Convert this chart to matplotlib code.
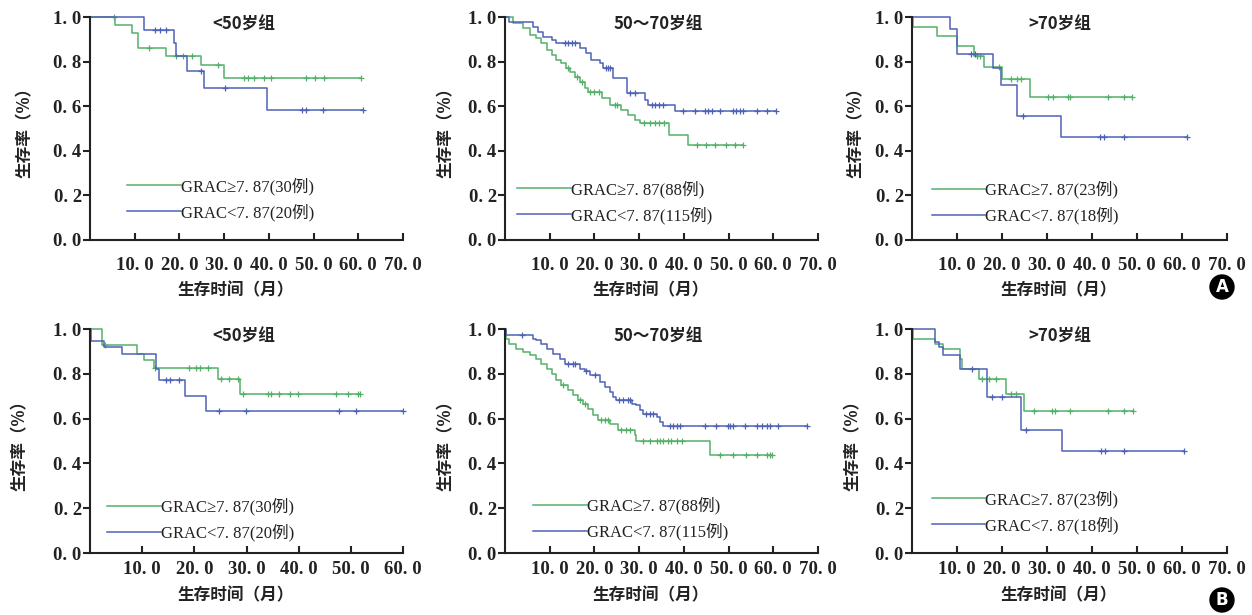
import numpy as np
import matplotlib.pyplot as plt

plt.rcParams['font.family'] = ['Liberation Serif', 'Noto Sans CJK SC']
plt.rcParams['axes.unicode_minus'] = False

GREEN = '#55b06a'
BLUE = '#4d62b5'
CJK = ['Noto Sans CJK SC', 'DejaVu Sans']
SERIF = ['Liberation Serif', 'Noto Sans CJK SC']

# ---------------- data ----------------
ticks_70 = [10, 20, 30, 40, 50, 60, 70]
ticks_60 = [10, 20, 30, 40, 50, 60]
yticks = [0.0, 0.2, 0.4, 0.6, 0.8, 1.0]

titles = ['<50岁组', '50～70岁组', '>70岁组']

# Panel A, <50 (GRAC>=7.87: 30 cases, GRAC<7.87: 20 cases)
a1_hi_t = [5.6, 9.3, 10.7, 16.9, 24.8, 29.9]
a1_hi_s = [0.964, 0.927, 0.862, 0.825, 0.785, 0.728]
a1_hi_c = [5.3, 13.2, 19.3, 20.8, 22.7, 28.7, 34.5, 35.4, 36.6, 38.9, 40.4, 48.2, 50.4, 52.4, 60.6]
a1_lo_t = [12.1, 18.8, 19.3, 21.8, 25.4, 39.5]
a1_lo_s = [0.942, 0.882, 0.825, 0.758, 0.683, 0.583]
a1_lo_c = [14.5, 15.6, 16.9, 24.9, 30.1, 47.5, 48.4, 52.2, 61.1]

# Panel A, 50-70 (88 / 115 cases)
a2_hi_t = [1.8, 4.0, 5.5, 7.0, 8.1, 9.3, 10.4, 11.5, 12.6, 13.7, 14.5, 15.6, 16.7, 17.8,
           18.6, 21.6, 23.4, 26.0, 27.5, 29.0, 30.1, 36.7, 41.0]
a2_hi_s = [0.972, 0.949, 0.919, 0.904, 0.882, 0.852, 0.830, 0.807, 0.792, 0.770, 0.755,
           0.732, 0.710, 0.680, 0.665, 0.635, 0.605, 0.583, 0.561, 0.538, 0.523, 0.471, 0.426]
a2_hi_c = [14.0, 16.0, 17.2, 19.0, 20.0, 21.0, 24.5, 25.0, 31.0, 32.5, 33.5, 34.5, 35.5,
           43.0, 45.0, 47.0, 49.5, 51.5, 53.3]
a2_lo_t = [1.0, 6.3, 7.4, 8.5, 10.4, 11.5, 16.7, 18.2, 19.3, 21.2, 21.9, 24.2, 27.2,
           31.3, 32.0, 38.0]
a2_lo_s = [0.979, 0.957, 0.934, 0.912, 0.897, 0.882, 0.860, 0.837, 0.807, 0.792, 0.770,
           0.725, 0.658, 0.628, 0.605, 0.580]
a2_lo_c = [13.4, 14.2, 15.0, 15.6, 22.5, 23.0, 23.5, 28.0, 29.0, 32.8, 33.5, 34.5, 35.3,
           39.9, 42.5, 44.7, 45.4, 46.2, 48.0, 51.0, 51.7, 52.5, 53.2, 56.3, 58.5, 60.7]

# Panel A, >70 (23 / 18 cases)
a3_hi_t = [0.2, 5.6, 10.0, 13.7, 16.1, 20.1, 26.2]
a3_hi_s = [0.957, 0.913, 0.870, 0.826, 0.775, 0.720, 0.640]
a3_hi_c = [14.5, 15.2, 19.3, 21.9, 23.3, 24.2, 30.2, 31.3, 34.7, 35.0, 43.6, 47.2, 48.8]
a3_lo_t = [8.5, 10.0, 18.1, 19.7, 23.3, 33.0]
a3_lo_s = [0.944, 0.833, 0.771, 0.694, 0.555, 0.463]
a3_lo_c = [13.0, 14.1, 24.6, 41.8, 42.7, 47.2, 61.0]

# Panel B, <50 (30 / 20 cases)
b1_hi_t = [2.3, 9.0, 10.3, 12.2, 24.5, 28.7]
b1_hi_s = [0.927, 0.890, 0.860, 0.827, 0.777, 0.708]
b1_hi_c = [2.9, 12.4, 19.0, 20.3, 21.0, 22.6, 25.1, 26.7, 28.3, 29.3, 34.1, 34.7, 36.3,
           38.3, 39.9, 47.2, 49.5, 51.4, 51.7]
b1_lo_t = [0.2, 2.7, 6.2, 12.6, 13.2, 18.3, 22.2]
b1_lo_s = [0.946, 0.921, 0.887, 0.823, 0.771, 0.700, 0.632]
b1_lo_c = [14.5, 15.4, 17.0, 24.7, 29.9, 47.8, 51.0, 60.0]

# Panel B, 50-70 (88 / 115 cases)
b2_hi_t = [0.2, 1.0, 2.5, 4.0, 5.5, 7.0, 8.1, 9.3, 10.4, 11.5, 12.6, 14.1, 15.2, 16.3,
           17.5, 18.6, 19.7, 20.8, 23.4, 25.3, 29.0, 29.4, 45.8]
b2_hi_s = [0.957, 0.935, 0.912, 0.897, 0.882, 0.868, 0.845, 0.823, 0.801, 0.771, 0.749,
           0.726, 0.704, 0.682, 0.667, 0.644, 0.615, 0.592, 0.577, 0.548, 0.525, 0.500, 0.439]
b2_hi_c = [13.0, 16.8, 18.0, 21.5, 22.3, 23.0, 26.0, 27.0, 28.0, 30.9, 32.4, 33.9, 34.6,
           35.4, 36.5, 37.2, 38.4, 39.5, 48.0, 51.0, 54.0, 56.3, 58.5, 59.3, 59.7]
b2_lo_t = [0.2, 6.3, 7.0, 8.1, 9.3, 10.7, 12.2, 13.4, 16.7, 17.8, 19.0, 21.2, 22.3, 23.4,
           24.2, 24.9, 28.3, 29.4, 30.1, 30.9, 33.9, 34.6, 35.4]
b2_lo_s = [0.975, 0.957, 0.949, 0.935, 0.912, 0.890, 0.868, 0.845, 0.823, 0.811, 0.793,
           0.763, 0.741, 0.719, 0.696, 0.682, 0.667, 0.659, 0.637, 0.622, 0.607, 0.585, 0.565]
b2_lo_c = [3.7, 14.1, 15.2, 15.6, 18.2, 20.1, 25.5, 26.5, 27.5, 28.0, 31.5, 32.5, 33.0,
           36.9, 37.6, 38.4, 39.1, 44.7, 47.3, 49.9, 50.3, 51.0, 53.7, 56.3, 57.4, 58.5,
           59.3, 61.1, 67.5]

# Panel B, >70 (23 / 18 cases)
b3_hi_t = [0.2, 5.1, 6.8, 10.7, 11.0, 14.8, 20.8, 24.9]
b3_hi_s = [0.957, 0.935, 0.912, 0.868, 0.823, 0.778, 0.711, 0.632]
b3_hi_c = [15.6, 17.0, 18.6, 22.0, 23.1, 27.2, 31.0, 31.7, 35.0, 43.6, 47.2, 49.2]
b3_lo_t = [5.1, 5.9, 6.8, 10.7, 16.7, 24.2, 33.4]
b3_lo_s = [0.942, 0.920, 0.882, 0.823, 0.696, 0.548, 0.455]
b3_lo_c = [13.4, 17.8, 20.1, 25.3, 42.1, 42.9, 47.2, 60.5]

labels_hi = ['GRAC≥7. 87(30例)', 'GRAC≥7. 87(88例)', 'GRAC≥7. 87(23例)']
labels_lo = ['GRAC<7. 87(20例)', 'GRAC<7. 87(115例)', 'GRAC<7. 87(18例)']


def km_curve(ax, ev_t, ev_s, cens, color, label):
    t_end = max(cens[-1], ev_t[-1])
    x = np.concatenate([[0.0], ev_t, [t_end]])
    y = np.concatenate([[1.0], ev_s, [ev_s[-1]]])
    line, = ax.step(x, y, where='post', color=color, lw=1.1, label=label, clip_on=False)
    c = np.asarray(cens)
    idx = np.searchsorted(x, c, side='right') - 1
    ax.plot(c, y[idx], ls='none', marker='+', ms=4, mew=0.9, color=color, clip_on=False)
    return line


def fmt(v):
    return f'{v:.1f}'.replace('.', '. ')


def setup(ax, xmax, ticks, title, title_x, xpad, ylab_x, xlab_y):
    ax.set_xlim(0, xmax)
    ax.set_ylim(0, 1.0)
    ax.set_xticks(ticks)
    ax.set_xticklabels([fmt(v) for v in ticks])
    ax.set_yticks(yticks)
    ax.set_yticklabels([fmt(v) for v in yticks])
    for s in ['top', 'right']:
        ax.spines[s].set_visible(False)
    for s in ['left', 'bottom']:
        ax.spines[s].set_linewidth(1.5)
        ax.spines[s].set_color('#222222')
    ax.tick_params(axis='x', direction='in', length=5, width=1.5, pad=xpad,
                   colors='#222222')
    ax.tick_params(axis='y', direction='out', length=5, width=1.5, pad=1,
                   colors='#222222')
    for lab in ax.get_xticklabels() + ax.get_yticklabels():
        lab.set_fontfamily(['Liberation Serif'])
        lab.set_fontweight('bold')
        lab.set_fontsize(13.5)
    ax.text(title_x, 0.965, title, transform=ax.transAxes, ha='center', va='center',
            fontsize=12, fontweight='bold', family=CJK, color='#222222')
    ax.text(ylab_x, 0.5, '生存率（%）', transform=ax.transAxes, rotation=90,
            ha='center', va='center', fontsize=12, fontweight='bold', family=CJK,
            color='#222222')
    ax.text(0.465, xlab_y, '生存时间（月）', transform=ax.transAxes, ha='center',
            va='center', fontsize=12, fontweight='bold', family=CJK, color='#222222')


fig = plt.figure(figsize=(12.52, 6.15), dpi=100)

W, H = 1252.0, 615.0
lefts = [90, 505, 912]
widths = [313, 313, 315]

panels = [
    # row, col, xmax, ticks, hi, lo
    (0, 0, 70, ticks_70, (a1_hi_t, a1_hi_s, a1_hi_c), (a1_lo_t, a1_lo_s, a1_lo_c)),
    (0, 1, 70, ticks_70, (a2_hi_t, a2_hi_s, a2_hi_c), (a2_lo_t, a2_lo_s, a2_lo_c)),
    (0, 2, 70, ticks_70, (a3_hi_t, a3_hi_s, a3_hi_c), (a3_lo_t, a3_lo_s, a3_lo_c)),
    (1, 0, 60, ticks_60, (b1_hi_t, b1_hi_s, b1_hi_c), (b1_lo_t, b1_lo_s, b1_lo_c)),
    (1, 1, 70, ticks_70, (b2_hi_t, b2_hi_s, b2_hi_c), (b2_lo_t, b2_lo_s, b2_lo_c)),
    (1, 2, 70, ticks_70, (b3_hi_t, b3_hi_s, b3_hi_c), (b3_lo_t, b3_lo_s, b3_lo_c)),
]
row_top = [17, 329]
row_bot = [240, 553]
title_xs = [[0.49, 0.49, 0.47], [0.49, 0.49, 0.47]]
ylab_xs = [[-0.208, -0.19, -0.18], [-0.224, -0.19, -0.187]]
xpads = [12, 6]
xlab_ys = [-0.224, -0.19]
leg_pos = [[(0.119, 0.085), (0.039, 0.072), (0.064, 0.068)],
           [(0.055, 0.05), (0.09, 0.055), (0.064, 0.085)]]

for row, col, xmax, ticks, hi, lo in panels:
    top, bot = row_top[row], row_bot[row]
    ax = fig.add_axes([lefts[col] / W, 1 - bot / H, widths[col] / W, (bot - top) / H])
    setup(ax, xmax, ticks, titles[col], title_xs[row][col], xpads[row],
          ylab_xs[row][col], xlab_ys[row])
    l1 = km_curve(ax, *hi, GREEN, labels_hi[col])
    l2 = km_curve(ax, *lo, BLUE, labels_lo[col])
    leg = ax.legend(handles=[l1, l2], loc='lower left', bbox_to_anchor=leg_pos[row][col],
                    frameon=False, borderpad=0, borderaxespad=0, handlelength=3.2,
                    handletextpad=0.0, labelspacing=0.5,
                    prop={'size': 12, 'family': SERIF})
    for t in leg.get_texts():
        t.set_color('#222222')

for lab, y in [('A', 287), ('B', 600)]:
    fig.text(1222 / W, 1 - y / H, lab, ha='center', va='center', color='white',
             fontsize=12, fontweight='bold', family='DejaVu Sans',
             bbox=dict(boxstyle='circle,pad=0.18', fc='black', ec='black'))

fig.savefig('out.png', dpi=100, facecolor='white')
